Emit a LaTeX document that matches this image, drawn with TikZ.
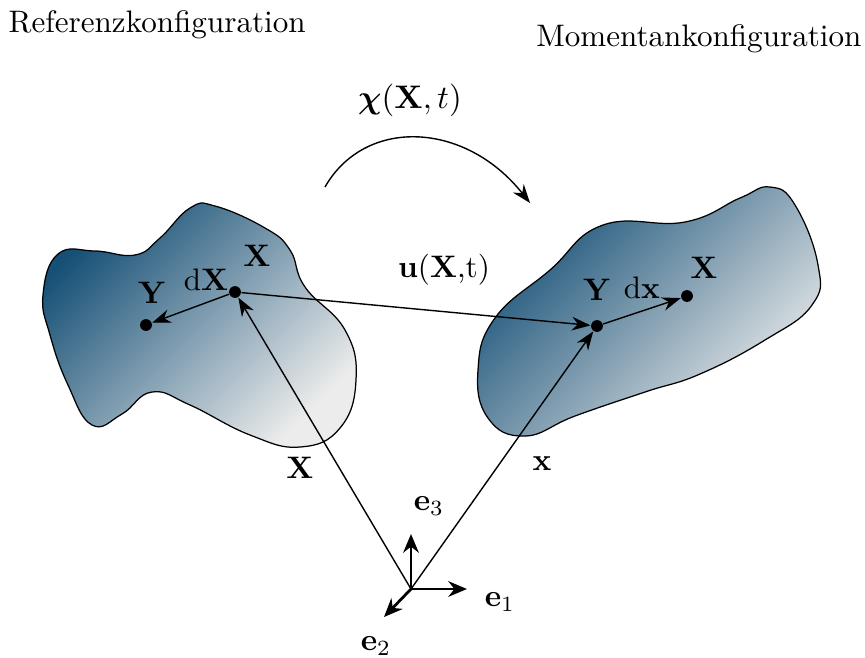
\documentclass[tikz,border=0pt]{standalone}
\usepackage{amsmath,bm}
\usetikzlibrary{arrows.meta}
\definecolor{blobdark}{RGB}{22,80,118}
\definecolor{bloblight}{RGB}{236,236,236}
\tikzset{
  dot/.style={circle,fill=black,inner sep=0pt,minimum size=3.8pt},
  vec/.style={-{Stealth[length=6pt,width=4.4pt]},line width=0.45pt},
  basis/.style={-{Stealth[length=6pt,width=5pt]},line width=0.9pt},
  blob/.style={draw=black,line width=0.4pt,top color=blobdark,bottom color=bloblight,shading angle=45},
  lbl/.style={inner sep=0pt}
}
\begin{document}
\begin{tikzpicture}[x=0.3215pt,y=-0.3215pt]
\useasboundingbox (0,0) rectangle (865,657);
% titles
\node[lbl,anchor=west] (tref) at (8,25) {Referenzkonfiguration};
\node[lbl,anchor=east] (tmom) at (862,39) {Momentankonfiguration};
% map label and arc
\node[lbl,scale=1.05] (chi) at (410,100) {$\bm{\chi}(\mathbf{X},t)$};
\coordinate (arcS) at (325,187);
\coordinate (arcE) at (530,203);
\draw[vec] (arcS) .. controls (365,117) and (465,121) .. (arcE);
% blobs
\shade[blob] plot[smooth cycle,tension=0.75] coordinates {
 (43,295) (58,254) (95,251) (135,255) (160,238) (190,208) (215,206)
 (265,228) (290,250) (305,287) (345,330) (356,380) (340,428)
 (300,447) (250,435) (190,405) (152,392) (122,414) (92,425)
 (68,385) (50,335)};
\shade[blob] plot[smooth cycle,tension=0.75] coordinates {
 (495,318) (550,270) (603,225) (685,222) (740,198) (770,187)
 (795,205) (818,265) (812,305) (765,340) (700,374)
 (645,392) (575,416) (525,436) (488,418) (478,370)};
% points
\node[dot] (lX) at (235,292) {};
\node[dot] (lY) at (146,325) {};
\node[dot] (rY) at (597,326) {};
\node[dot] (rX) at (687,296) {};
\coordinate (O) at (411,589);
% vectors
\draw[vec] (lX) -- (lY);
\draw[vec] (rY) -- (rX);
\draw[vec] (lX) -- (rY);
\draw[vec] (O) -- (lX);
\draw[vec] (O) -- (rY);
% basis
\coordinate (e1t) at (467,589);
\coordinate (e3t) at (411,534);
\coordinate (e2t) at (384,617);
\draw[basis] (O) -- (e1t);
\draw[basis] (O) -- (e3t);
\draw[basis] (O) -- (e2t);
% labels
\node[lbl] (lXl) at (257,256) {$\mathbf{X}$};
\node[lbl] (dXl) at (206,280) {$\mathrm{d}\mathbf{X}$};
\node[lbl] (lYl) at (152,293) {$\mathbf{Y}$};
\node[lbl] (rYl) at (597,290) {$\mathbf{Y}$};
\node[lbl] (dxl) at (642,288) {$\mathrm{d}\mathbf{x}$};
\node[lbl] (rXl) at (704,268) {$\mathbf{X}$};
\node[lbl] (ul) at (444,270) {$\mathbf{u}(\mathbf{X}\text{,t})$};
\node[lbl] (Xl) at (300,468) {$\mathbf{X}$};
\node[lbl] (xl) at (542,464) {$\mathbf{x}$};
\node[lbl] (e1l) at (500,602) {$\mathbf{e}_1$};
\node[lbl] (e2l) at (376,646) {$\mathbf{e}_2$};
\node[lbl] (e3l) at (429,506) {$\mathbf{e}_3$};
\end{tikzpicture}
\end{document}
